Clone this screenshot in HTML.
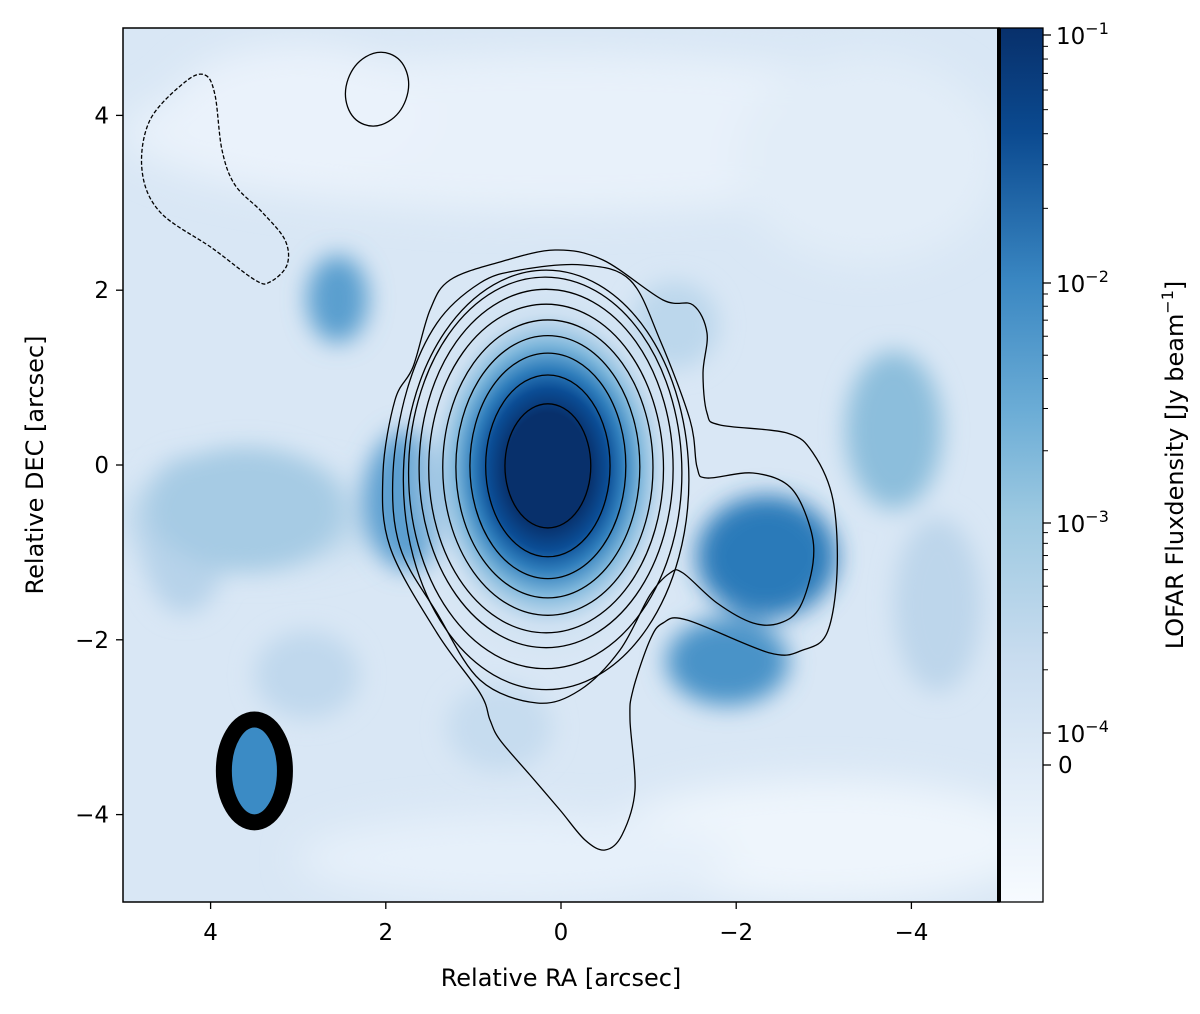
<!DOCTYPE html>
<html><head><meta charset="utf-8"><style>
html,body{margin:0;padding:0;background:#fff;}
svg text{font-family:"DejaVu Sans","Liberation Sans",sans-serif;fill:#000;}
</style></head><body>
<svg id="chart" width="1200" height="1009" viewBox="0 0 1200 1009" xmlns="http://www.w3.org/2000/svg">
<defs>
<filter id="blur" x="-20%" y="-20%" width="140%" height="140%"><feGaussianBlur stdDeviation="18"/></filter>
<filter id="blur2" x="-30%" y="-30%" width="160%" height="160%"><feGaussianBlur stdDeviation="12"/></filter>
<clipPath id="plotclip"><rect x="123" y="28" width="876" height="874"/></clipPath>
<radialGradient id="coregrad">
<stop offset="0" stop-color="#08306b"/>
<stop offset="0.28" stop-color="#08306b"/>
<stop offset="0.4" stop-color="#0b4d95"/>
<stop offset="0.5" stop-color="#2f7dbb"/>
<stop offset="0.62" stop-color="#7db6db"/>
<stop offset="0.78" stop-color="#c6dcef" stop-opacity="0.6"/>
<stop offset="1" stop-color="#d6e6f4" stop-opacity="0"/>
</radialGradient>
<linearGradient id="cbgrad" x1="0" y1="0" x2="0" y2="1">
<stop offset="0" stop-color="#08306b"/>
<stop offset="0.12" stop-color="#0b4a90"/>
<stop offset="0.29" stop-color="#3a87c2"/>
<stop offset="0.44" stop-color="#6cadd6"/>
<stop offset="0.56" stop-color="#9dc9e1"/>
<stop offset="0.72" stop-color="#c8dcef"/>
<stop offset="0.85" stop-color="#dfebf7"/>
<stop offset="1" stop-color="#f7fbff"/>
</linearGradient>
</defs>
<g id="plot" clip-path="url(#plotclip)"></g>
<rect x="123" y="28" width="876" height="874" fill="none" stroke="#000" stroke-width="1.5"/>
<g id="axes"></g>
<g id="colorbar"></g>
</svg>
<script>
// ---- data ----
const xTicks = [4, 2, 0, -2, -4];
const yTicks = [4, 2, 0, -2, -4];
const coreContours = [
 [0.15,-0.01,0.49,0.71],
 [0.15,-0.01,0.71,1.04],
 [0.15,-0.01,0.89,1.29],
 [0.15,-0.02,1.05,1.50],
 [0.15,-0.03,1.20,1.69],
 [0.17,-0.04,1.34,1.88],
 [0.17,-0.04,1.45,2.05],
 [0.18,-0.09,1.56,2.24],
 [0.17,-0.17,1.63,2.40]
];
const outerContourX = [555,603,663,693,707,703,707,720,787,813,833,837,827,803,770,687,663,650,633,630,635,622,605,585,560,530,500,490,480,437,390,383,395,413,430,450,500];
const outerContourY = [250,260,300,305,333,373,413,425,433,453,500,573,633,650,653,620,623,640,690,720,790,835,850,840,810,775,740,720,693,633,547,473,400,367,310,280,262];
const midContourX = [583,630,660,690,697,707,753,790,810,813,800,780,753,717,683,670,650,620,580,537,480,437,400,393,407,437,480,520];
const midContourY = [265,280,340,420,467,478,473,487,527,563,607,623,623,603,573,573,595,650,690,703,680,613,547,473,390,323,283,270];
const dashX = [205,215,222,235,262,285,287,270,255,212,160,142,150,185];
const dashY = [75,95,150,185,212,240,265,282,280,248,212,170,120,82];
const smallContour = [2.1, 4.3, 0.35, 0.43];
const beam = [3.5, -3.5, 0.44, 0.68];
const blobRA = [-2.35,-1.9,2.55,3.6,-3.8,1.75,-1.3,2.9,4.3,-4.3,0.7];
const blobDEC = [-1.05,-2.25,1.9,-0.5,0.4,-0.4,1.6,-2.4,-0.8,-1.6,-3.0];
const blobRX = [0.8,0.7,0.35,1.1,0.55,0.5,0.5,0.6,0.5,0.5,0.6];
const blobRY = [0.7,0.5,0.5,0.7,0.9,0.8,0.5,0.5,0.9,1.0,0.5];
const blobCol = ["#2a7ab9","#4a93c8","#5a9fcf","#a6cbe4","#8cbedc","#5b9fd0","#bcd7ec","#c0d8ed","#b7d3ea","#bdd6eb","#c6dcef"];
const cbMajor = [-1,-2,-3,-4];
const cbMajorLabels = ["10","10","10","10"];
const cbExpLabels = ["−1","−2","−3","−4"];

const X0=123, X1=999, Y0=28, Y1=902;
const sx = ra => X0 + (5 - ra) / 10 * (X1 - X0);
const sy = de => Y0 + (5 - de) / 10 * (Y1 - Y0);
const kx = (X1-X0)/10, ky = (Y1-Y0)/10;
const cbY = e => {
 if (e >= -2) return 283 + (-2 - e) * 248;
 if (e >= -3) return 283 + (-2 - e) * 240;
 return 523 + (-3 - e) * 210;
};
const NS="http://www.w3.org/2000/svg";
function mk(tag, attrs, parent){const e=document.createElementNS(NS,tag);for(const k in attrs)e.setAttribute(k,attrs[k]);parent.appendChild(e);return e;}
const plot=document.getElementById('plot'), axes=document.getElementById('axes'), cb=document.getElementById('colorbar');

let bg=mk('rect',{x:X0,y:Y0,width:X1-X0,height:Y1-Y0,fill:'#d9e7f5'},plot);


const bgb=mk('g',{filter:'url(#blur)'},plot);
[[0,3.8,5,0.9,'#e8f1fa'],[-3,-4.3,2.5,0.7,'#eef5fc'],[0.5,-4.5,2.5,0.5,'#e6f0fa'],[3.0,4.0,1.5,0.8,'#eaf2fb'],[-3.5,3.5,1.5,1.2,'#e2edf8'],[3.5,-0.6,1.5,0.5,'#bcd7eb']].forEach(p=>{
 mk('ellipse',{cx:sx(p[0]),cy:sy(p[1]),rx:p[2]*kx,ry:p[3]*ky,fill:p[4]},bgb);
});
const blobs=mk('g',{filter:'url(#blur2)'},plot);
for(let i=blobRA.length-1;i>=0;i--){
 const e=mk('ellipse',{cx:sx(blobRA[i]),cy:sy(blobDEC[i]),rx:blobRX[i]*kx,ry:blobRY[i]*ky,fill:blobCol[i]},blobs);
 
 
}
let core=mk('ellipse',{cx:sx(0.15),cy:sy(-0.05),rx:1.7*kx,ry:2.3*ky,fill:'url(#coregrad)'},plot);



function smoothPath(xs,ys){
 const p=xs.map((x,i)=>[x,ys[i]]);const n=p.length;let d=`M${p[0][0]},${p[0][1]}`;
 for(let i=0;i<n;i++){const p0=p[(i-1+n)%n],p1=p[i],p2=p[(i+1)%n],p3=p[(i+2)%n];
  d+=` C${p1[0]+(p2[0]-p0[0])/6},${p1[1]+(p2[1]-p0[1])/6} ${p2[0]-(p3[0]-p1[0])/6},${p2[1]-(p3[1]-p1[1])/6} ${p2[0]},${p2[1]}`;}
 return d+'Z';
}
const cg=mk('g',{fill:'none',stroke:'#000','stroke-width':1.3},plot);
let pth=mk('path',{d:smoothPath(outerContourX,outerContourY)},cg);


pth=mk('path',{d:smoothPath(midContourX,midContourY)},cg);


coreContours.forEach(c=>{
 const e=mk('ellipse',{cx:sx(c[0]),cy:sy(c[1]),rx:c[2]*kx,ry:c[3]*ky},cg);
 
 
});
pth=mk('path',{d:smoothPath(dashX,dashY),'stroke-dasharray':'4,2'},cg);


let sc=mk('ellipse',{cx:sx(smallContour[0]),cy:sy(smallContour[1]),rx:smallContour[2]*kx,ry:smallContour[3]*ky,transform:`rotate(20 ${sx(smallContour[0])} ${sy(smallContour[1])})`},cg);


let bm=mk('ellipse',{cx:sx(beam[0]),cy:sy(beam[1]),rx:beam[2]*kx-8,ry:beam[3]*ky-8,fill:'#3b8bc5',stroke:'#000','stroke-width':16},plot);



xTicks.forEach(t=>{
 mk('line',{x1:sx(t),x2:sx(t),y1:Y1,y2:Y1+7,stroke:'#000','stroke-width':1.3},axes);
 const tx=mk('text',{x:sx(t),y:Y1+38,'font-size':23,'text-anchor':'middle'},axes);tx.textContent=t<0?'−'+(-t):t;
 
 
});
yTicks.forEach(t=>{
 mk('line',{x1:X0-7,x2:X0,y1:sy(t),y2:sy(t),stroke:'#000','stroke-width':1.3},axes);
 const tx=mk('text',{x:X0-14,y:sy(t)+8,'font-size':23,'text-anchor':'end'},axes);tx.textContent=t<0?'−'+(-t):t;
 
 
});
let xl=mk('text',{x:561,y:986,'font-size':24,'text-anchor':'middle'},axes);xl.textContent='Relative RA [arcsec]';


let yl=mk('text',{x:0,y:0,'font-size':24,'text-anchor':'middle',transform:'translate(43 465) rotate(-90)'},axes);yl.textContent='Relative DEC [arcsec]';



let cbr=mk('rect',{x:999,y:Y0,width:44,height:Y1-Y0,fill:'url(#cbgrad)',stroke:'#000','stroke-width':1.3},cb);


mk('line',{x1:999,x2:999,y1:Y0,y2:Y1,stroke:'#000','stroke-width':4},cb);
cbMajor.forEach((e,i)=>{
 const y=cbY(e);
 mk('line',{x1:1043,x2:1051,y1:y,y2:y,stroke:'#000','stroke-width':1.3},cb);
 const t=mk('text',{x:1056,y:y+9,'font-size':23},cb);t.textContent=cbMajorLabels[i];
 const s=mk('tspan',{dy:-10,'font-size':16},t);s.textContent=cbExpLabels[i];
 
 
 if(e<-1){for(let m=2;m<=9;m++){const yy=cbY(e+Math.log10(m));mk('line',{x1:1043,x2:1048,y1:yy,y2:yy,stroke:'#000','stroke-width':1},cb);}}
});
const y0=765;
mk('line',{x1:1043,x2:1051,y1:y0,y2:y0,stroke:'#000','stroke-width':1.3},cb);
let zt=mk('text',{x:1058,y:y0+8,'font-size':23},cb);zt.textContent='0';


let cl=mk('text',{x:0,y:0,'font-size':24,'text-anchor':'middle',transform:'translate(1183 465) rotate(-90)'},cb);
cl.textContent='LOFAR Fluxdensity [Jy beam';
const cs=mk('tspan',{dy:-10,'font-size':16},cl);cs.textContent='−1';
const ce=mk('tspan',{dy:10},cl);ce.textContent=']';


</script>
</body></html>
